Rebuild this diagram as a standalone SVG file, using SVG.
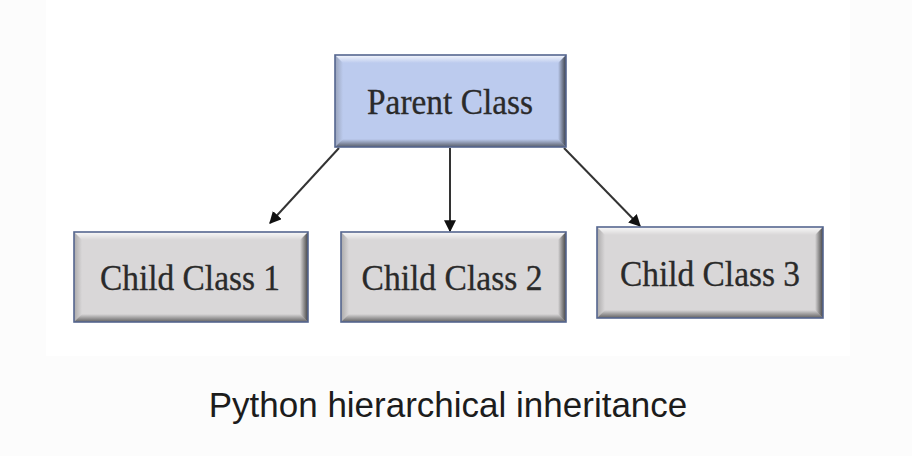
<svg xmlns="http://www.w3.org/2000/svg" width="912" height="456" viewBox="0 0 912 456">
  <defs>
    <linearGradient id="gTop" x1="0" y1="0" x2="0" y2="1">
      <stop offset="0" stop-color="#ffffff" stop-opacity="0.85"/>
      <stop offset="1" stop-color="#ffffff" stop-opacity="0"/>
    </linearGradient>
    <linearGradient id="gBottom" x1="0" y1="0" x2="0" y2="1">
      <stop offset="0" stop-color="#222" stop-opacity="0"/>
      <stop offset="1" stop-color="#222" stop-opacity="0.65"/>
    </linearGradient>
    <linearGradient id="gLeft" x1="0" y1="0" x2="1" y2="0">
      <stop offset="0" stop-color="#555" stop-opacity="0.35"/>
      <stop offset="1" stop-color="#555" stop-opacity="0"/>
    </linearGradient>
    <linearGradient id="gRight" x1="0" y1="0" x2="1" y2="0">
      <stop offset="0" stop-color="#111" stop-opacity="0"/>
      <stop offset="1" stop-color="#111" stop-opacity="0.75"/>
    </linearGradient>
    <marker id="arrow" viewBox="0 0 10 10" refX="9" refY="5" markerWidth="6" markerHeight="6" orient="auto" markerUnits="strokeWidth">
      <path d="M0,0 L10,5 L0,10 z" fill="#111"/>
    </marker>
  </defs>
  <style>
    .page { fill: #fcfcfc; }
    .canvas { fill: #ffffff; }
    .parent { fill: #bccbee; }
    .child { fill: #d9d7d8; }
    .border { fill: none; stroke: #55668f; stroke-width: 1.6; }
    .lbl { font-family: "Liberation Serif", "Times New Roman", serif; font-size: 35px; fill: #2a2a2a; stroke: #2a2a2a; stroke-width: 0.3; text-anchor: middle; }
    .conn { stroke: #333; stroke-width: 2; fill: none; marker-end: url(#arrow); }
    .caption { font-family: "Liberation Sans", Arial, sans-serif; font-size: 35px; fill: #1c1c1c; text-anchor: middle; }
  </style>

  <rect class="page" x="0" y="0" width="912" height="456"/>
  <rect class="canvas" x="46" y="0" width="804" height="356"/>

  <g id="connectors">
    <line class="conn" x1="339" y1="148" x2="270" y2="223"/>
    <line class="conn" x1="450" y1="148" x2="450" y2="231"/>
    <line class="conn" x1="564" y1="148" x2="640" y2="226"/>
  </g>

  <g id="parent-class">
    <rect class="parent" x="335" y="55" width="231" height="92"/>
    <polygon fill="url(#gTop)" points="335,55 566,55 558,63 343,63"/>
    <polygon fill="url(#gLeft)" points="335,55 343,63 343,139 335,147"/>
    <polygon fill="url(#gBottom)" points="335,147 566,147 558,139 343,139"/>
    <polygon fill="url(#gRight)" points="566,55 558,63 558,139 566,147"/>
    <rect class="border" x="335" y="55" width="231" height="92"/>
    <text class="lbl" x="450" y="114" textLength="166" lengthAdjust="spacingAndGlyphs">Parent Class</text>
  </g>

  <g id="child-class-1">
    <rect class="child" x="74" y="232" width="234" height="90"/>
    <polygon fill="url(#gTop)" points="74,232 308,232 300,240 82,240"/>
    <polygon fill="url(#gLeft)" points="74,232 82,240 82,314 74,322"/>
    <polygon fill="url(#gBottom)" points="74,322 308,322 300,314 82,314"/>
    <polygon fill="url(#gRight)" points="308,232 300,240 300,314 308,322"/>
    <rect class="border" x="74" y="232" width="234" height="90"/>
    <text class="lbl" x="190" y="290" textLength="180" lengthAdjust="spacingAndGlyphs">Child Class 1</text>
  </g>

  <g id="child-class-2">
    <rect class="child" x="341" y="232" width="225" height="90"/>
    <polygon fill="url(#gTop)" points="341,232 566,232 558,240 349,240"/>
    <polygon fill="url(#gLeft)" points="341,232 349,240 349,314 341,322"/>
    <polygon fill="url(#gBottom)" points="341,322 566,322 558,314 349,314"/>
    <polygon fill="url(#gRight)" points="566,232 558,240 558,314 566,322"/>
    <rect class="border" x="341" y="232" width="225" height="90"/>
    <text class="lbl" x="452" y="290" textLength="181" lengthAdjust="spacingAndGlyphs">Child Class 2</text>
  </g>

  <g id="child-class-3">
    <rect class="child" x="597" y="227" width="226" height="91"/>
    <polygon fill="url(#gTop)" points="597,227 823,227 815,235 605,235"/>
    <polygon fill="url(#gLeft)" points="597,227 605,235 605,310 597,318"/>
    <polygon fill="url(#gBottom)" points="597,318 823,318 815,310 605,310"/>
    <polygon fill="url(#gRight)" points="823,227 815,235 815,310 823,318"/>
    <rect class="border" x="597" y="227" width="226" height="91"/>
    <text class="lbl" x="710" y="286" textLength="180" lengthAdjust="spacingAndGlyphs">Child Class 3</text>
  </g>

  <text class="caption" x="448" y="417">Python hierarchical inheritance</text>
</svg>
